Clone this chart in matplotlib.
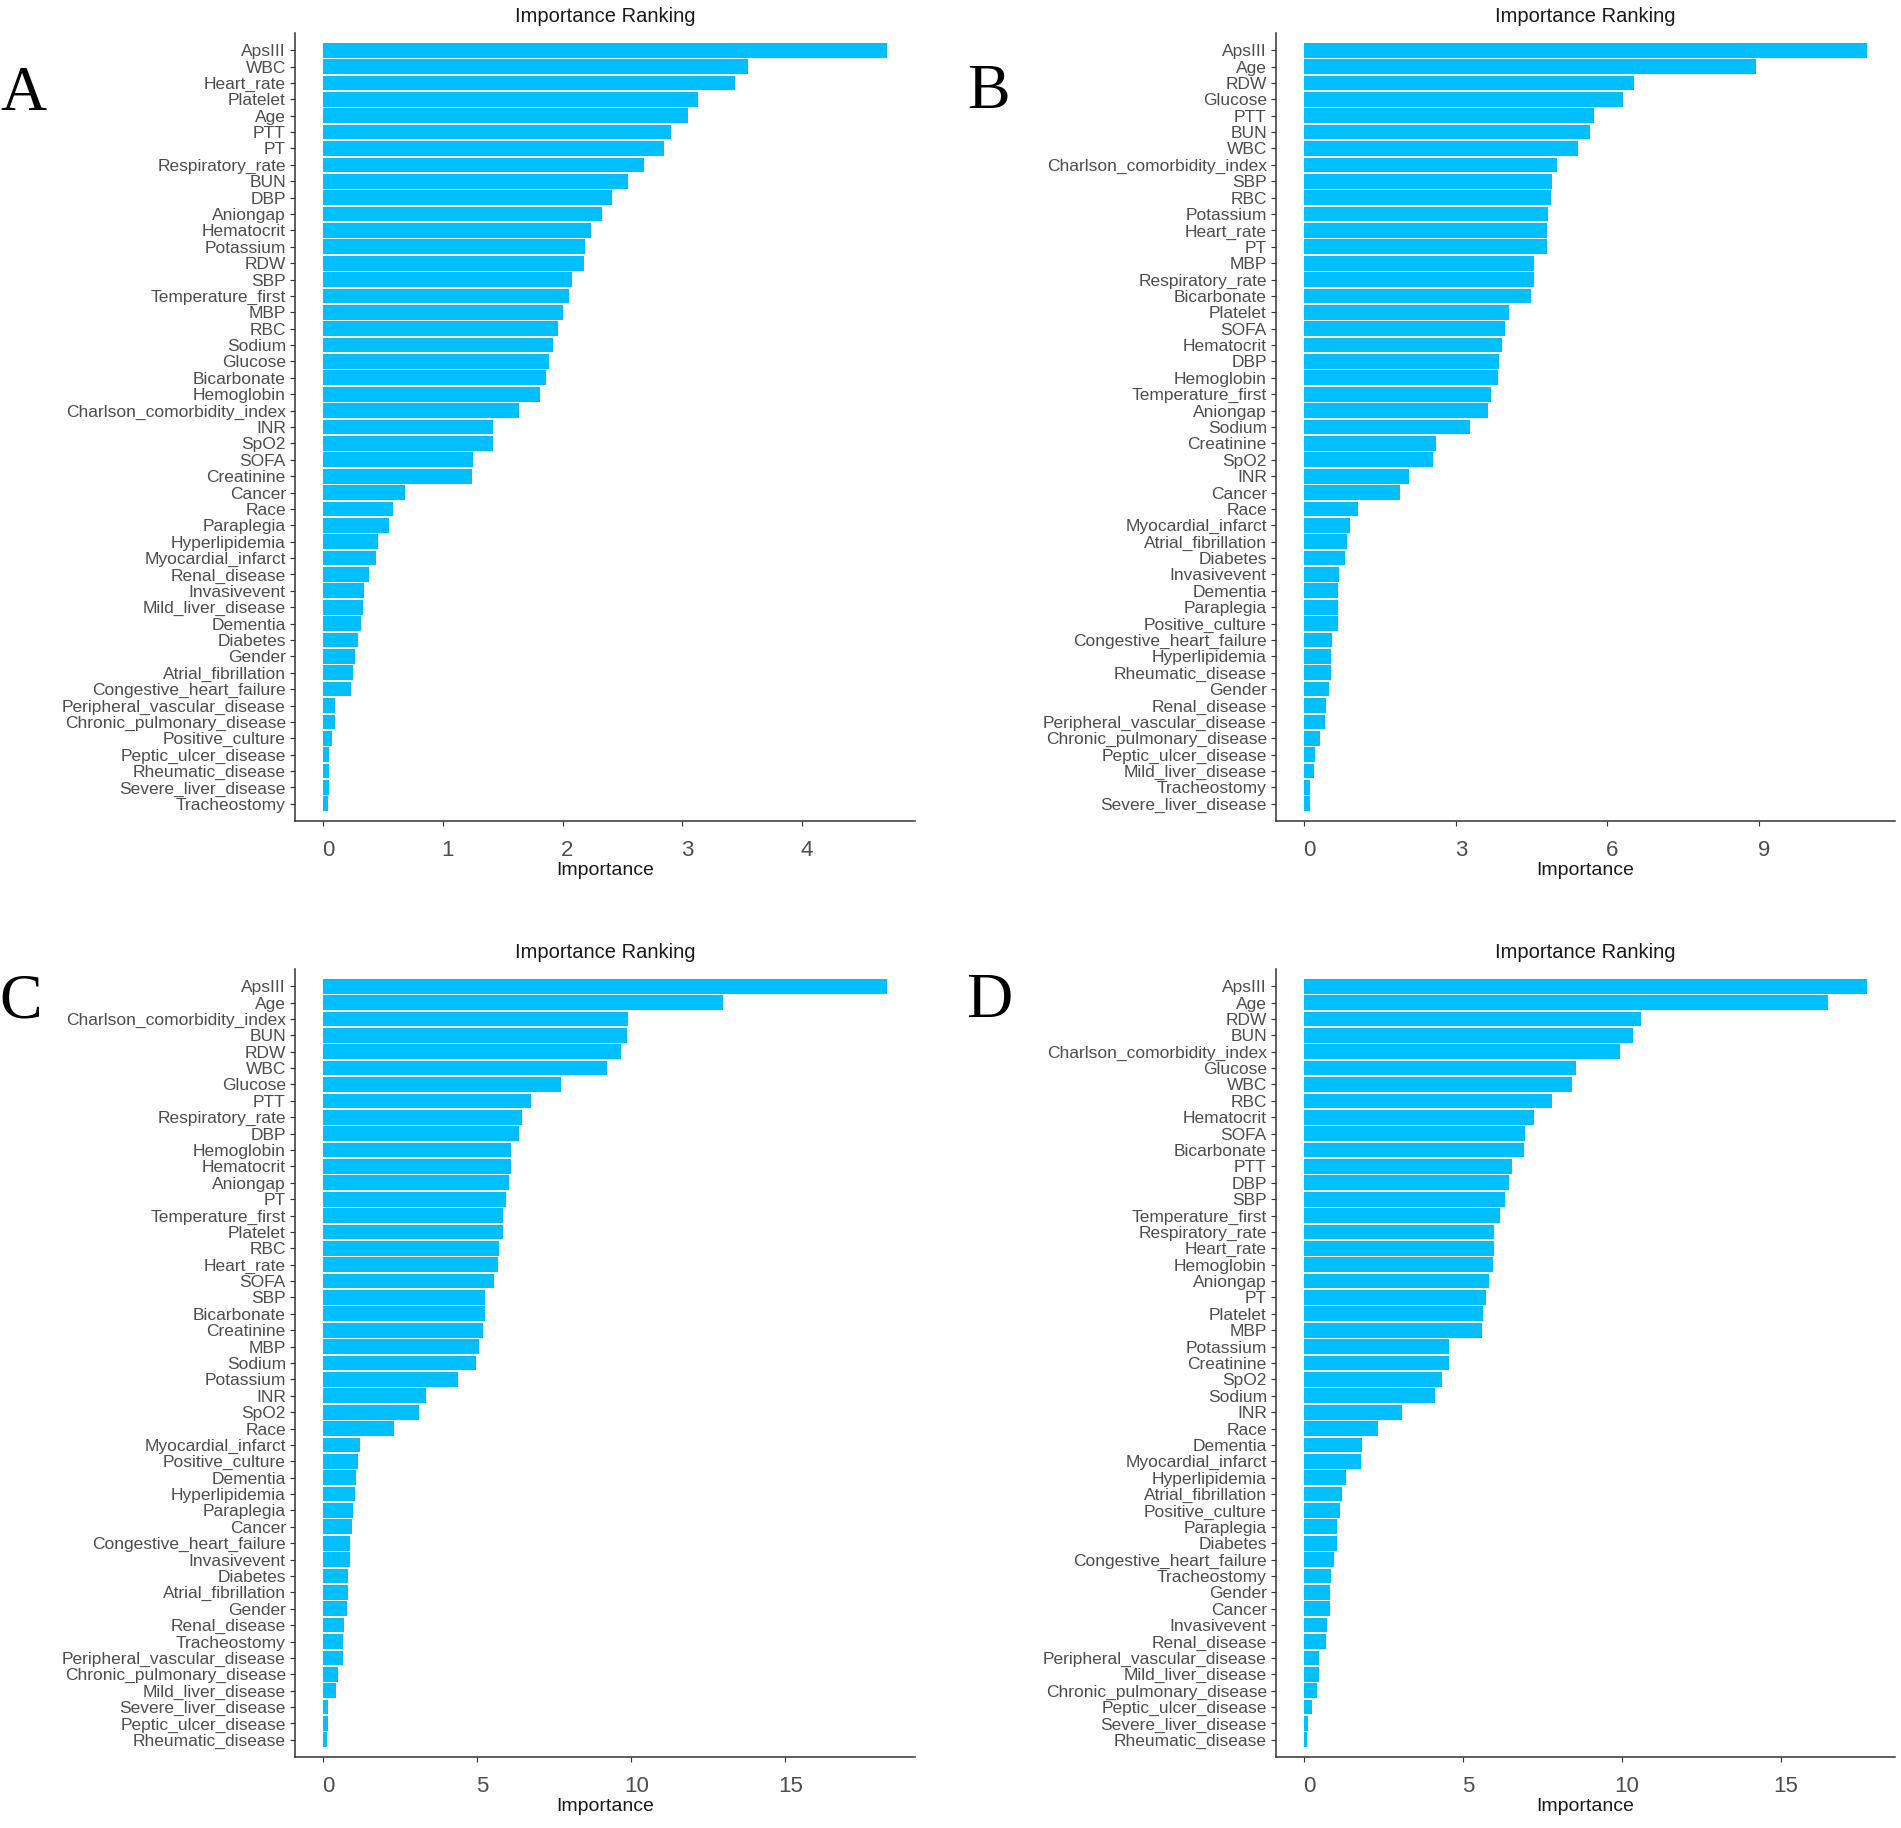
import matplotlib
matplotlib.use('Agg')
import matplotlib.pyplot as plt
import matplotlib.transforms as mtransforms

# Panel A
featuresA = ['ApsIII', 'WBC', 'Heart_rate', 'Platelet', 'Age', 'PTT', 'PT', 'Respiratory_rate', 'BUN', 'DBP',
             'Aniongap', 'Hematocrit', 'Potassium', 'RDW', 'SBP', 'Temperature_first', 'MBP', 'RBC', 'Sodium',
             'Glucose', 'Bicarbonate', 'Hemoglobin', 'Charlson_comorbidity_index', 'INR', 'SpO2', 'SOFA',
             'Creatinine', 'Cancer', 'Race', 'Paraplegia', 'Hyperlipidemia', 'Myocardial_infarct', 'Renal_disease',
             'Invasivevent', 'Mild_liver_disease', 'Dementia', 'Diabetes', 'Gender', 'Atrial_fibrillation',
             'Congestive_heart_failure', 'Peripheral_vascular_disease', 'Chronic_pulmonary_disease',
             'Positive_culture', 'Peptic_ulcer_disease', 'Rheumatic_disease', 'Severe_liver_disease', 'Tracheostomy']
importanceA = [4.71, 3.55, 3.44, 3.13, 3.05, 2.91, 2.85, 2.68, 2.55, 2.41,
               2.33, 2.24, 2.19, 2.18, 2.08, 2.05, 2.00, 1.96, 1.92,
               1.89, 1.86, 1.81, 1.64, 1.42, 1.42, 1.25,
               1.24, 0.68, 0.58, 0.55, 0.46, 0.44, 0.38,
               0.34, 0.33, 0.32, 0.29, 0.27, 0.25,
               0.23, 0.10, 0.10,
               0.07, 0.05, 0.05, 0.05, 0.04]
ticksA = [0, 1, 2, 3, 4]

# Panel B
featuresB = ['ApsIII', 'Age', 'RDW', 'Glucose', 'PTT', 'BUN', 'WBC', 'Charlson_comorbidity_index', 'SBP', 'RBC',
             'Potassium', 'Heart_rate', 'PT', 'MBP', 'Respiratory_rate', 'Bicarbonate', 'Platelet', 'SOFA',
             'Hematocrit', 'DBP', 'Hemoglobin', 'Temperature_first', 'Aniongap', 'Sodium', 'Creatinine', 'SpO2',
             'INR', 'Cancer', 'Race', 'Myocardial_infarct', 'Atrial_fibrillation', 'Diabetes', 'Invasivevent',
             'Dementia', 'Paraplegia', 'Positive_culture', 'Congestive_heart_failure', 'Hyperlipidemia',
             'Rheumatic_disease', 'Gender', 'Renal_disease', 'Peripheral_vascular_disease',
             'Chronic_pulmonary_disease', 'Peptic_ulcer_disease', 'Mild_liver_disease', 'Tracheostomy',
             'Severe_liver_disease']
importanceB = [11.13, 8.94, 6.53, 6.30, 5.73, 5.66, 5.41, 5.01, 4.91, 4.88,
               4.82, 4.80, 4.80, 4.54, 4.54, 4.49, 4.06, 3.97,
               3.91, 3.85, 3.83, 3.69, 3.63, 3.28, 2.61, 2.54,
               2.07, 1.90, 1.07, 0.90, 0.85, 0.80, 0.69,
               0.67, 0.67, 0.66, 0.56, 0.54,
               0.54, 0.49, 0.43, 0.41,
               0.32, 0.22, 0.19, 0.12,
               0.11]
ticksB = [0, 3, 6, 9]

# Panel C
featuresC = ['ApsIII', 'Age', 'Charlson_comorbidity_index', 'BUN', 'RDW', 'WBC', 'Glucose', 'PTT',
             'Respiratory_rate', 'DBP', 'Hemoglobin', 'Hematocrit', 'Aniongap', 'PT', 'Temperature_first',
             'Platelet', 'RBC', 'Heart_rate', 'SOFA', 'SBP', 'Bicarbonate', 'Creatinine', 'MBP', 'Sodium',
             'Potassium', 'INR', 'SpO2', 'Race', 'Myocardial_infarct', 'Positive_culture', 'Dementia',
             'Hyperlipidemia', 'Paraplegia', 'Cancer', 'Congestive_heart_failure', 'Invasivevent', 'Diabetes',
             'Atrial_fibrillation', 'Gender', 'Renal_disease', 'Tracheostomy', 'Peripheral_vascular_disease',
             'Chronic_pulmonary_disease', 'Mild_liver_disease', 'Severe_liver_disease', 'Peptic_ulcer_disease',
             'Rheumatic_disease']
importanceC = [18.29, 12.98, 9.90, 9.86, 9.65, 9.22, 7.73, 6.73,
               6.45, 6.35, 6.10, 6.10, 6.04, 5.92, 5.82,
               5.82, 5.71, 5.67, 5.53, 5.24, 5.24, 5.18, 5.06, 4.96,
               4.39, 3.33, 3.12, 2.29, 1.20, 1.12, 1.08,
               1.04, 0.98, 0.94, 0.88, 0.86, 0.82,
               0.82, 0.78, 0.69, 0.65, 0.63,
               0.49, 0.43, 0.16, 0.16,
               0.14]
ticksC = [0, 5, 10, 15]

# Panel D
featuresD = ['ApsIII', 'Age', 'RDW', 'BUN', 'Charlson_comorbidity_index', 'Glucose', 'WBC', 'RBC', 'Hematocrit',
             'SOFA', 'Bicarbonate', 'PTT', 'DBP', 'SBP', 'Temperature_first', 'Respiratory_rate', 'Heart_rate',
             'Hemoglobin', 'Aniongap', 'PT', 'Platelet', 'MBP', 'Potassium', 'Creatinine', 'SpO2', 'Sodium', 'INR',
             'Race', 'Dementia', 'Myocardial_infarct', 'Hyperlipidemia', 'Atrial_fibrillation', 'Positive_culture',
             'Paraplegia', 'Diabetes', 'Congestive_heart_failure', 'Tracheostomy', 'Gender', 'Cancer',
             'Invasivevent', 'Renal_disease', 'Peripheral_vascular_disease', 'Mild_liver_disease',
             'Chronic_pulmonary_disease', 'Peptic_ulcer_disease', 'Severe_liver_disease', 'Rheumatic_disease']
importanceD = [17.71, 16.48, 10.61, 10.36, 9.94, 8.57, 8.44, 7.81, 7.22,
               6.95, 6.91, 6.53, 6.46, 6.32, 6.15, 5.98, 5.98,
               5.94, 5.81, 5.71, 5.64, 5.60, 4.57, 4.55, 4.34, 4.13, 3.07,
               2.34, 1.83, 1.79, 1.33, 1.18, 1.14,
               1.03, 1.03, 0.93, 0.86, 0.82, 0.82,
               0.72, 0.69, 0.48, 0.48,
               0.42, 0.25, 0.11, 0.08]
ticksD = [0, 5, 10, 15]

barColor = '#00BFFF'
textGrey = '#4D4D4D'
lineColor = '#333333'

W, H = 1901, 1828
fig = plt.figure(figsize=(W / 100, H / 100), dpi=100)


def axesRect(left, right, top, bottom):
    # pixeles -> fraccion de figura
    return [left / W, 1 - bottom / H, (right - left) / W, (bottom - top) / H]


def drawPanel(rect, features, values, ticks, letter, letterPos):
    ax = fig.add_axes(rect)
    n = len(features)
    pos = list(range(n))
    ax.barh(pos, values, height=0.9, color=barColor, edgecolor='none')

    vmax = max(values)
    ax.set_xlim(-0.05 * vmax, 1.05 * vmax)
    ax.set_ylim(n - 1 + 1.05, -1.05)

    ax.set_yticks(pos)
    ax.set_yticklabels(features)
    ax.set_xticks(ticks)

    ax.tick_params(axis='y', labelsize=12.5, labelcolor=textGrey, color=lineColor,
                   length=3.6, width=0.8, pad=3)
    ax.tick_params(axis='x', labelsize=16, labelcolor=textGrey, color=lineColor,
                   length=3.6, width=0.8, pad=10)

    # las etiquetas del eje x salen un poco a la derecha de la marca
    shift = mtransforms.ScaledTranslation(5 / 100, 0, fig.dpi_scale_trans)
    for lab in ax.get_xticklabels():
        lab.set_transform(lab.get_transform() + shift)

    for side in ['top', 'right']:
        ax.spines[side].set_visible(False)
    for side in ['left', 'bottom']:
        ax.spines[side].set_color(lineColor)
        ax.spines[side].set_linewidth(1.1)

    ax.set_title('Importance Ranking', fontsize=14.5, color='#1a1a1a', pad=8)
    ax.set_xlabel('Importance', fontsize=14, color='#1a1a1a', labelpad=1)

    fig.text(letterPos[0] / W, 1 - letterPos[1] / H, letter, fontsize=46,
             family='Liberation Serif', ha='center', va='baseline', color='black')
    return ax


plt.rcParams['font.family'] = ['Liberation Sans', 'DejaVu Sans']

drawPanel(axesRect(295, 915, 33, 821), featuresA, importanceA, ticksA, 'A', (23, 110))
drawPanel(axesRect(1276, 1895, 33, 821), featuresB, importanceB, ticksB, 'B', (988, 108))
drawPanel(axesRect(295, 915, 969, 1757), featuresC, importanceC, ticksC, 'C', (21, 1017))
drawPanel(axesRect(1276, 1895, 969, 1757), featuresD, importanceD, ticksD, 'D', (989, 1017))

fig.savefig('out.png', dpi=100, facecolor='white')
